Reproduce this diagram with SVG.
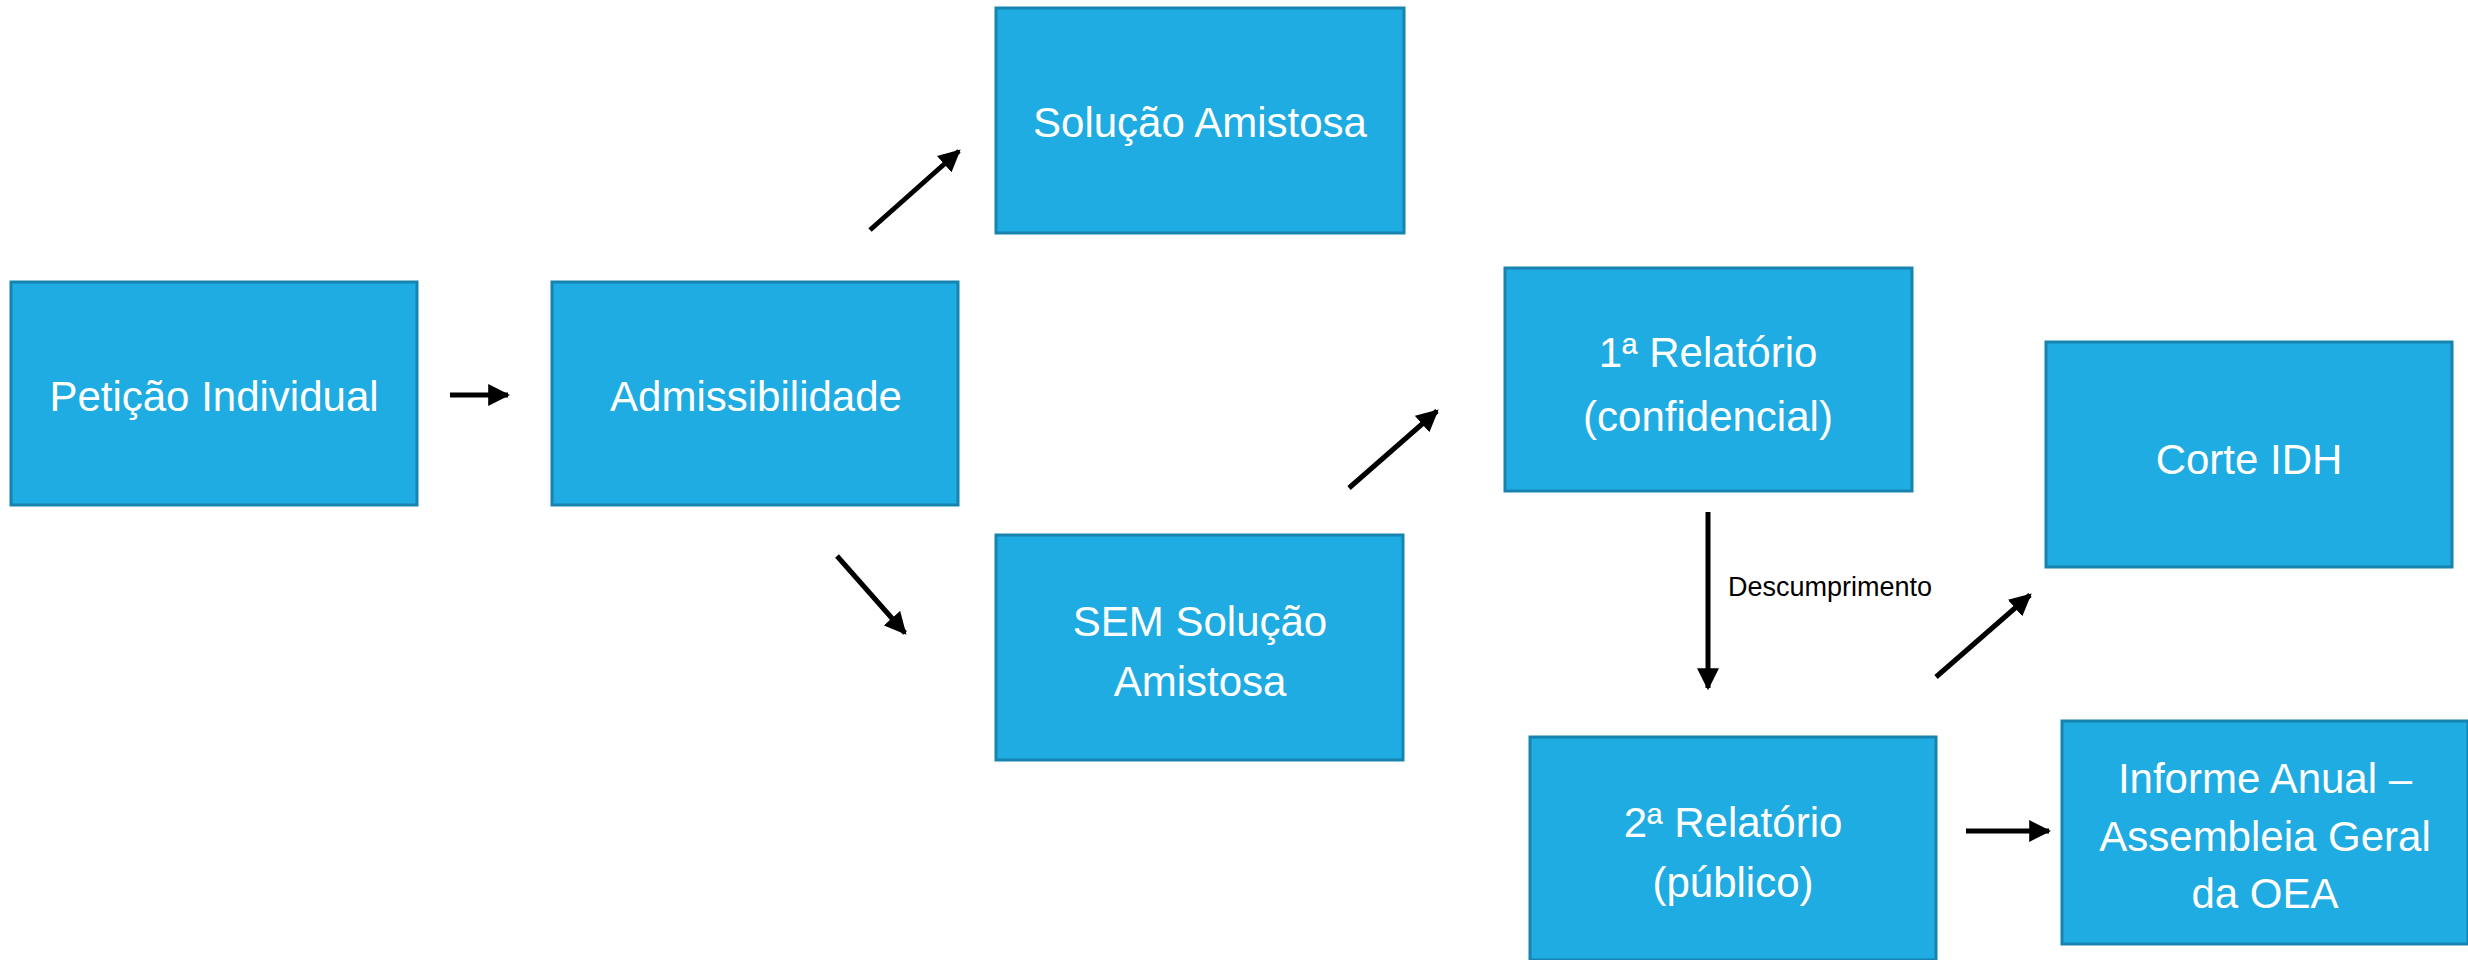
<svg xmlns="http://www.w3.org/2000/svg" width="2468" height="960" viewBox="0 0 2468 960">
<defs>
<style>
.box{fill:#1FACE2;stroke:#1784B0;stroke-width:3}
.t{font-family:"Liberation Sans",Arial,sans-serif;font-size:42px;fill:#ffffff;text-anchor:middle}
.c{stroke:#000;stroke-width:5;fill:none;marker-end:url(#ah)}
.lbl{font-family:"Liberation Sans",Arial,sans-serif;font-size:27px;fill:#000}
</style>
<marker id="ah" viewBox="0 0 10 10" refX="9" refY="5" markerWidth="4.4" markerHeight="4.4" orient="auto" markerUnits="strokeWidth">
<path d="M0,0 L10,5 L0,10 z" fill="#000"/>
</marker>
</defs>
<rect width="2468" height="960" fill="#fff"/>
<g id="n-peticao"><rect class="box" x="11" y="282" width="406" height="223"/><text class="t" x="214" y="411">Petição Individual</text></g>
<g id="n-admiss"><rect class="box" x="552" y="282" width="406" height="223"/><text class="t" x="756" y="411">Admissibilidade</text></g>
<g id="n-solucao"><rect class="box" x="996" y="8" width="408" height="225"/><text class="t" x="1200" y="137">Solução Amistosa</text></g>
<g id="n-sem"><rect class="box" x="996" y="535" width="407" height="225"/><text class="t" x="1200" y="636">SEM Solução</text><text class="t" x="1200" y="696">Amistosa</text></g>
<g id="n-rel1"><rect class="box" x="1505" y="268" width="407" height="223"/><text class="t" x="1708" y="367">1ª Relatório</text><text class="t" x="1708" y="431">(confidencial)</text></g>
<g id="n-rel2"><rect class="box" x="1530" y="737" width="406" height="223"/><text class="t" x="1733" y="837">2ª Relatório</text><text class="t" x="1733" y="897">(público)</text></g>
<g id="n-corte"><rect class="box" x="2046" y="342" width="406" height="225"/><text class="t" x="2249" y="474">Corte IDH</text></g>
<g id="n-informe"><rect class="box" x="2062" y="721" width="406" height="223"/><text class="t" x="2265" y="793">Informe Anual –</text><text class="t" x="2265" y="851">Assembleia Geral</text><text class="t" x="2265" y="908">da OEA</text></g>
<g id="connectors">
<line class="c" x1="450" y1="395" x2="508" y2="395"/>
<line class="c" x1="870" y1="230" x2="959" y2="151"/>
<line class="c" x1="837" y1="556" x2="905" y2="633"/>
<line class="c" x1="1349" y1="488" x2="1437" y2="411"/>
<line class="c" x1="1708" y1="512" x2="1708" y2="688"/>
<line class="c" x1="1936" y1="677" x2="2030" y2="595"/>
<line class="c" x1="1966" y1="831" x2="2049" y2="831"/>
<text class="lbl" x="1728" y="596">Descumprimento</text>
</g>
</svg>
